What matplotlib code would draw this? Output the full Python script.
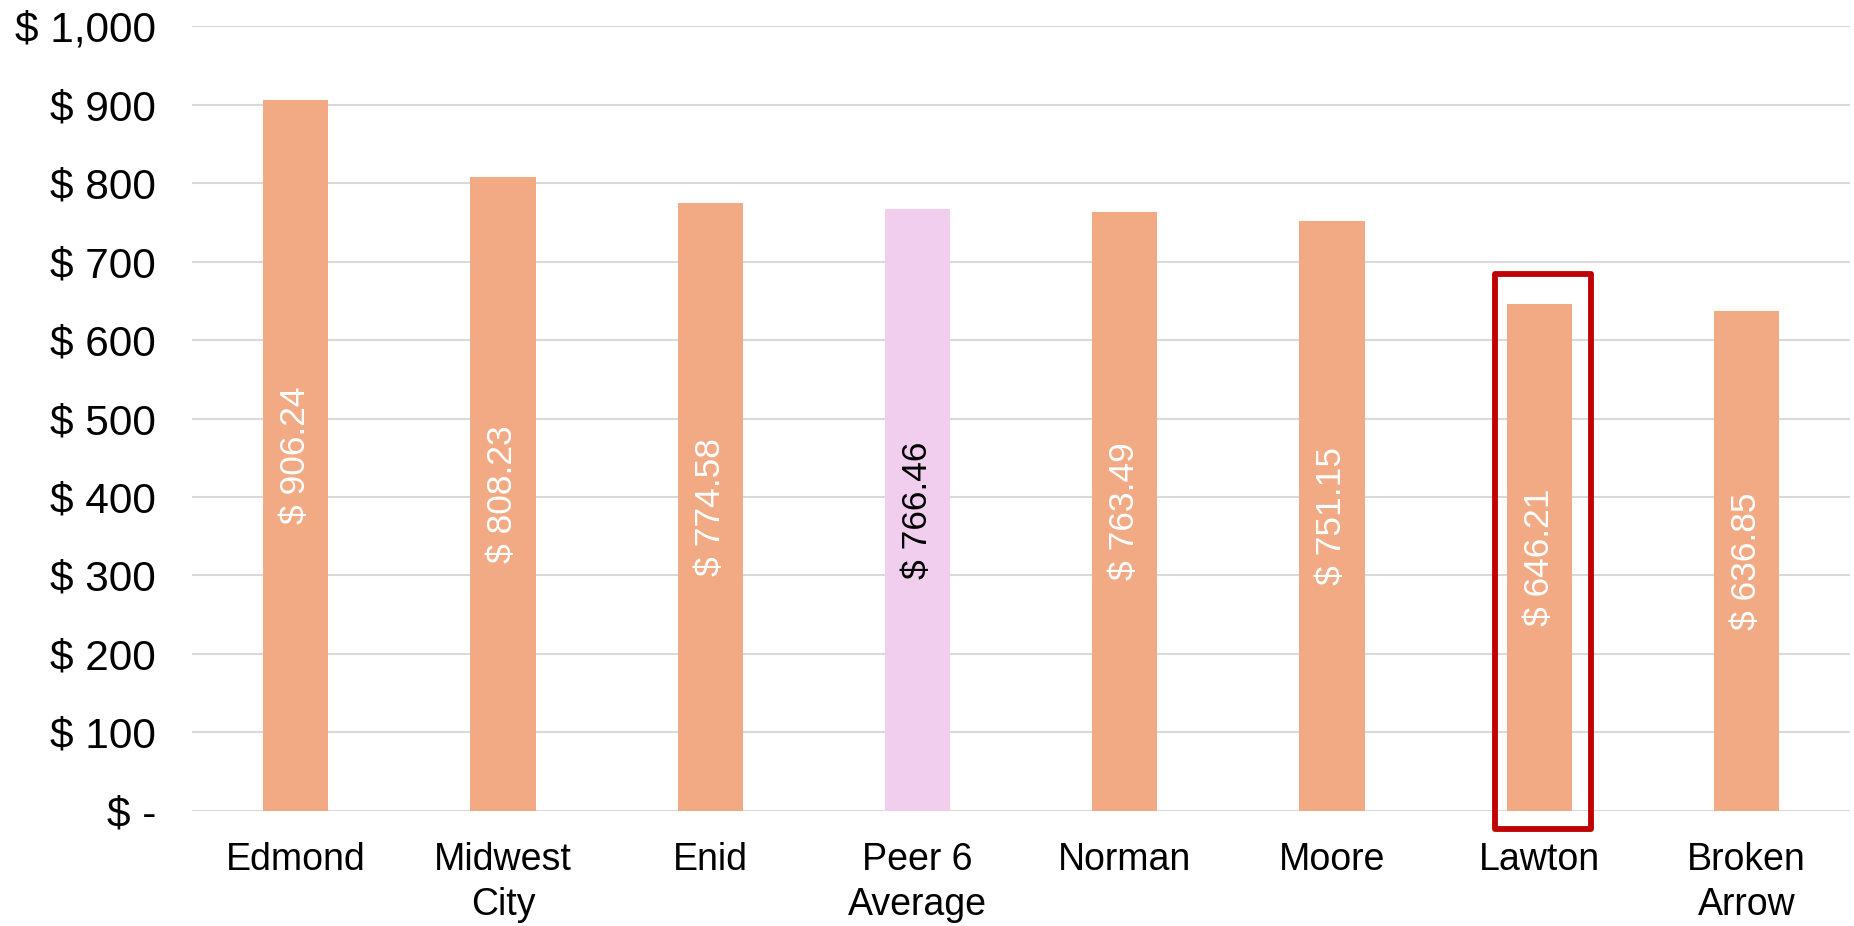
import matplotlib.pyplot as plt
from matplotlib.patches import Rectangle
from matplotlib.ticker import FuncFormatter

plt.rcParams['font.family'] = ['Liberation Sans', 'DejaVu Sans']

cities = ['Edmond', 'Midwest\nCity', 'Enid', 'Peer 6\nAverage', 'Norman',
          'Moore', 'Lawton', 'Broken\nArrow']
costs = [906.24, 808.23, 774.58, 766.46, 763.49, 751.15, 646.21, 636.85]
average_idx = 3
highlight_idx = 6

bar_color = '#F1AA84'
avg_color = '#F1CEEE'


def dollars(v, pos=None):
    if v == 0:
        return '$ -'
    return '$ {:,.0f}'.format(v)


fig = plt.figure(figsize=(18.54, 9.26), dpi=100)
ax = fig.add_axes([0.1036, 0.1242, 0.8943, 0.8477])

colors = [avg_color if i == average_idx else bar_color for i in range(len(costs))]
x = list(range(len(costs)))
ax.bar(x, costs, width=0.315, color=colors, zorder=3)

for i, v in enumerate(costs):
    tc = 'black' if i == average_idx else 'white'
    ax.text(i, v / 2, '$ {:.2f}'.format(v), rotation=90, ha='center',
            va='center', fontsize=25.5, color=tc, zorder=4)

# box around the highlighted city
box = Rectangle((highlight_idx - 0.215, -23), 0.463, 707, fill=False,
                edgecolor='#C00000', linewidth=4.2, joinstyle='round',
                clip_on=False, zorder=5)
ax.add_patch(box)

ax.set_xlim(-0.5, len(costs) - 0.5)
ax.set_ylim(0, 1000)
ax.set_yticks(range(0, 1001, 100))
ax.yaxis.set_major_formatter(FuncFormatter(dollars))
ax.set_xticks(x)
ax.set_xticklabels(cities, fontsize=27, linespacing=1.33)
ax.tick_params(axis='y', labelsize=30.5, length=0, pad=26)
ax.tick_params(axis='x', length=0, pad=22)

ax.grid(axis='y', color='#D9D9D9', linewidth=1.5, zorder=0)
for s in ax.spines.values():
    s.set_visible(False)

fig.savefig('out.png', dpi=100, facecolor='white')
